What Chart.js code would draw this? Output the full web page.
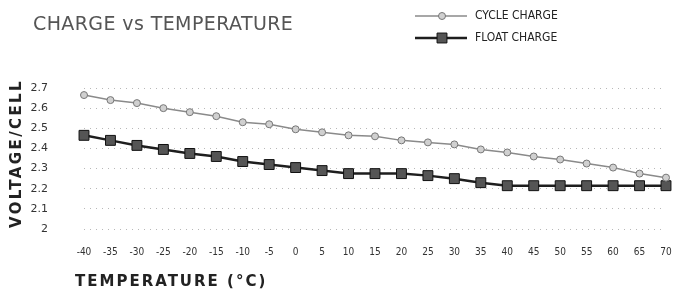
<!DOCTYPE html>
<html>
<head>
<meta charset="utf-8">
<script src="https://cdn.jsdelivr.net/npm/chart.js@4.4.0/dist/chart.umd.min.js"></script>
<style>
html, body { margin: 0; padding: 0; background: #fff; }
#wrap { width: 674px; height: 293px; }
</style>
</head>
<body>
<div id="wrap"><canvas id="mycanvas" width="674" height="293"></canvas></div>
<script>
// temperature (°C) along the bottom
var temps = ['-40','-35','-30','-25','-20','-15','-10','-5','0','5','10','15','20','25','30','35','40','45','50','55','60','65','70'];
// volts per cell
var cycleCharge = [2.665,2.64,2.625,2.60,2.58,2.56,2.53,2.52,2.495,2.48,2.465,2.46,2.44,2.43,2.42,2.395,2.38,2.36,2.345,2.325,2.305,2.275,2.255];
var floatCharge = [2.465,2.44,2.415,2.395,2.375,2.36,2.335,2.32,2.305,2.29,2.275,2.275,2.275,2.265,2.25,2.23,2.215,2.215,2.215,2.215,2.215,2.215,2.215];
var voltTicks = [2, 2.1, 2.2, 2.3, 2.4, 2.5, 2.6, 2.7];

var condensed = '"DejaVu Sans Condensed", "Liberation Sans Narrow", "DejaVu Sans", sans-serif';

// title, legend and axis titles (need letter spacing, so drawn by hand)
var textPlugin = {
	id: 'texts',
	afterDraw: function(chart) {
		var ctx = chart.ctx;
		ctx.save();
		ctx.textBaseline = 'middle';
		ctx.textAlign = 'left';

		ctx.fillStyle = '#555';
		ctx.font = '19px "DejaVu Sans", sans-serif';
		ctx.letterSpacing = '0.4px';
		ctx.fillText('CHARGE vs TEMPERATURE', 33, 25);

		// legend
		ctx.letterSpacing = '0px';
		ctx.font = '12px ' + condensed;
		var rows = [16, 38];
		chart.data.datasets.forEach(function(ds, i) {
			var y = rows[i];
			ctx.strokeStyle = ds.borderColor;
			ctx.lineWidth = ds.borderWidth;
			ctx.beginPath();
			ctx.moveTo(415, y);
			ctx.lineTo(467, y);
			ctx.stroke();
			ctx.fillStyle = ds.pointBackgroundColor;
			ctx.strokeStyle = ds.pointBorderColor;
			ctx.lineWidth = ds.pointBorderWidth;
			Chart.helpers.drawPoint(ctx, {
				pointStyle: ds.pointStyle,
				radius: ds.pointRadius,
				borderWidth: ds.pointBorderWidth,
				rotation: 0
			}, 442, y);
			ctx.fillStyle = '#222';
			ctx.fillText(ds.label, 475, y);
		});

		// axis titles
		ctx.fillStyle = '#222';
		ctx.font = 'bold 15px "DejaVu Sans", sans-serif';
		ctx.letterSpacing = '2px';
		ctx.fillText('TEMPERATURE (°C)', 75, 282);

		ctx.letterSpacing = '2.4px';
		ctx.translate(17.5, 153.5);
		ctx.rotate(-Math.PI / 2);
		ctx.textAlign = 'center';
		ctx.fillText('VOLTAGE/CELL', 0, 0);
		ctx.restore();
	}
};

var ctx = document.getElementById('mycanvas');

var lineGraph = new Chart(ctx, {
	type: 'line',
	data: {
		labels: temps,
		datasets: [
			{
				label: 'CYCLE CHARGE',
				data: cycleCharge,
				borderColor: '#8a8a8a',
				borderWidth: 1.5,
				pointStyle: 'circle',
				pointRadius: 3.5,
				pointBorderWidth: 1,
				pointBackgroundColor: '#d0d0d0',
				pointBorderColor: '#777',
				tension: 0
			},
			{
				label: 'FLOAT CHARGE',
				data: floatCharge,
				borderColor: '#1e1e1e',
				borderWidth: 2.5,
				pointStyle: 'rect',
				pointRadius: 7,
				pointBorderWidth: 1,
				pointBackgroundColor: '#555',
				pointBorderColor: '#111',
				tension: 0
			}
		]
	},
	options: {
		responsive: false,
		animation: false,
		layout: { padding: { top: 88, right: 5, left: 0, bottom: 0 } },
		plugins: {
			legend: { display: false },
			title: { display: false },
			tooltip: { enabled: false }
		},
		scales: {
			x: {
				offset: false,
				grid: { display: false, drawTicks: false },
				border: { display: false },
				ticks: {
					color: '#333',
					font: { family: condensed, size: 10 },
					padding: 17,
					maxRotation: 0,
					autoSkip: false
				},
				afterFit: function(scale) {
					scale.height = 64;
					scale.paddingLeft = 0;
					scale.paddingRight = 0;
				}
			},
			y: {
				min: 2,
				max: 2.7,
				grid: { color: '#b8b8b8', lineWidth: 1, drawTicks: false },
				border: { display: false, dash: [1, 5] },
				afterBuildTicks: function(scale) {
					scale.ticks = voltTicks.map(function(v) { return { value: v }; });
				},
				ticks: {
					color: '#333',
					font: { family: '"DejaVu Sans", sans-serif', size: 11 },
					padding: 36,
					callback: function(v) { return String(Math.round(v * 10) / 10); }
				},
				afterFit: function(scale) { scale.width = 84; }
			}
		}
	},
	plugins: [textPlugin]
});
</script>
</body>
</html>
